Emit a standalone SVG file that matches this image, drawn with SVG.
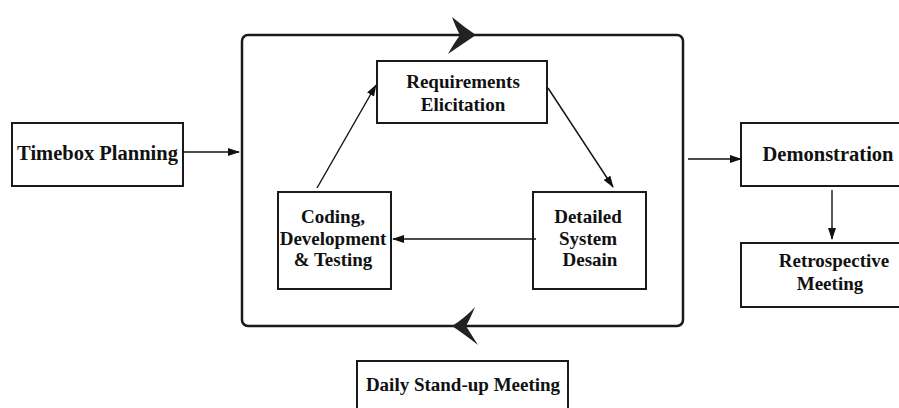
<svg xmlns="http://www.w3.org/2000/svg" width="899" height="408" viewBox="0 0 899 408">
<defs>
<style>
.box{fill:#fff;stroke:#1a1a1a;stroke-width:2}
.t{font-family:"Liberation Serif","Times New Roman",serif;font-weight:bold;font-size:19px;fill:#111;text-anchor:middle}
.lg{font-size:20.5px}
.c{fill:none;stroke:#111;stroke-width:1.4}
.big{fill:#222;stroke:none}
</style>
<marker id="ah" markerWidth="12" markerHeight="8" refX="11" refY="4" orient="auto" markerUnits="userSpaceOnUse">
<path d="M0,0 L12,4 L0,8 Z" fill="#111"/>
</marker>
</defs>
<rect width="899" height="408" fill="#fff"/>
<g id="cycle">
<rect x="242" y="35" width="441" height="291" rx="6" ry="6" fill="none" stroke="#1a1a1a" stroke-width="2.5"/>
<path class="big" d="M476,35 Q464,27 452,17 Q456,28 460,35 Q454,43 448,54 Q464,43 476,35 Z"/>
<path class="big" d="M452,326 Q465,318 475,307 Q470,319 466,326 Q471,334 478,345 Q464,334 452,326 Z"/>
</g>
<g id="timebox">
<rect class="box" x="12" y="123" width="171" height="63"/>
<text class="t lg" x="97.5" y="160">Timebox Planning</text>
</g>
<g id="requirements">
<rect class="box" x="377" y="61" width="170" height="62"/>
<text class="t" x="463" y="88">Requirements</text>
<text class="t" x="463" y="111">Elicitation</text>
</g>
<g id="coding">
<rect class="box" x="278" y="192" width="113" height="97"/>
<text class="t" x="333" y="223">Coding,</text>
<text class="t" x="333" y="245">Development</text>
<text class="t" x="333" y="266">&amp; Testing</text>
</g>
<g id="design">
<rect class="box" x="533" y="192" width="113" height="97"/>
<text class="t" x="588" y="223">Detailed</text>
<text class="t" x="588" y="245">System</text>
<text class="t" x="590" y="266">Desain</text>
</g>
<g id="demonstration">
<rect class="box" x="741" y="123" width="180" height="63"/>
<text class="t lg" x="828" y="161">Demonstration</text>
</g>
<g id="retrospective">
<rect class="box" x="741" y="243" width="180" height="64"/>
<text class="t" x="834" y="267">Retrospective</text>
<text class="t" x="830" y="290">Meeting</text>
</g>
<g id="standup">
<rect class="box" x="357" y="361" width="211" height="60"/>
<text class="t" x="463" y="391">Daily Stand-up Meeting</text>
</g>
<g id="connectors">
<line class="c" x1="183" y1="152" x2="239" y2="152" marker-end="url(#ah)"/>
<line class="c" x1="317" y1="188" x2="376" y2="85" marker-end="url(#ah)"/>
<line class="c" x1="548" y1="88" x2="613" y2="187" marker-end="url(#ah)"/>
<line class="c" x1="536" y1="239" x2="393" y2="239" marker-end="url(#ah)"/>
<line class="c" x1="688" y1="159" x2="741" y2="159" marker-end="url(#ah)"/>
<line class="c" x1="832" y1="190" x2="832" y2="239" marker-end="url(#ah)"/>
</g>
</svg>
